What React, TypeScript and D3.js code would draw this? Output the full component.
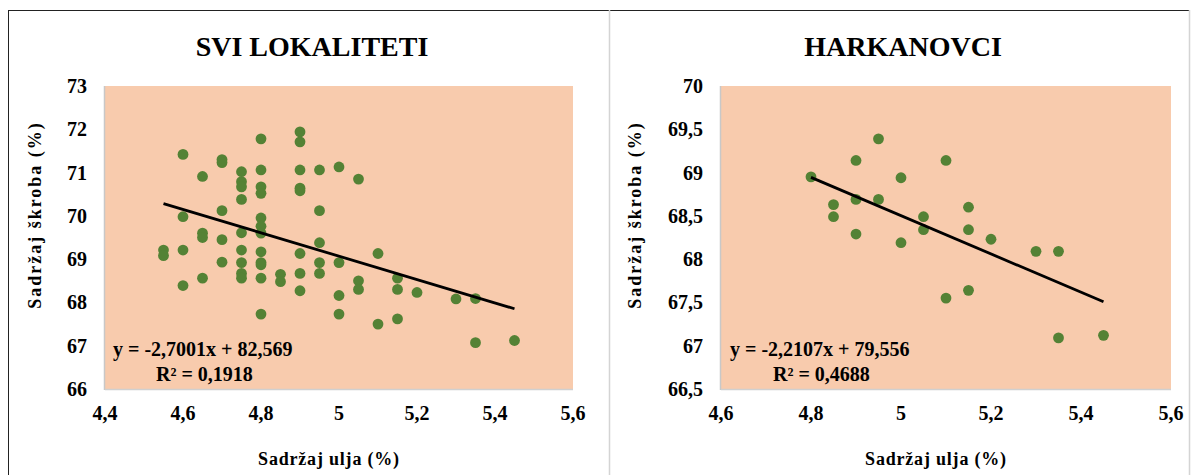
import React from "react";
import * as d3 from "d3";

// ---- Data: SVI LOKALITETI ----
const allOil = [
  4.55, 4.55,
  4.6, 4.6, 4.6, 4.6,
  4.65, 4.65, 4.65, 4.65,
  4.7, 4.7, 4.7, 4.7, 4.7,
  4.75, 4.75, 4.75, 4.75, 4.75, 4.75, 4.75, 4.75, 4.75,
  4.8, 4.8, 4.8, 4.8, 4.8, 4.8, 4.8, 4.8, 4.8, 4.8, 4.8, 4.8,
  4.85, 4.85,
  4.9, 4.9, 4.9, 4.9, 4.9, 4.9, 4.9, 4.9,
  4.95, 4.95, 4.95, 4.95, 4.95,
  5.0, 5.0, 5.0, 5.0,
  5.05, 5.05, 5.05,
  5.1, 5.1,
  5.15, 5.15, 5.15,
  5.2,
  5.3,
  5.35, 5.35,
  5.45,
];
const allStarch = [
  69.21, 69.08,
  71.42, 69.98, 69.21, 68.39,
  70.91, 69.6, 69.5, 68.56,
  71.3, 71.23, 70.12, 69.45, 68.93,
  71.02, 70.79, 70.67, 70.38, 69.61, 69.21, 68.92, 68.67, 68.56,
  71.78, 71.06, 70.67, 70.52, 69.95, 69.76, 69.6, 69.17, 68.92, 68.87, 68.56, 67.73,
  68.65, 68.48,
  71.94, 71.71, 71.06, 70.64, 70.58, 69.13, 68.67, 68.27,
  71.06, 70.12, 69.38, 68.92, 68.67,
  71.13, 68.92, 68.16, 67.73,
  70.85, 68.5, 68.3,
  69.13, 67.5,
  68.56, 68.3, 67.62,
  68.23,
  68.08,
  68.09, 67.07,
  67.12,
];

// ---- Data: HARKANOVCI ----
const harkOil = [
  4.8,
  4.85, 4.85,
  4.9, 4.9, 4.9,
  4.95, 4.95,
  5.0, 5.0,
  5.05, 5.05,
  5.1, 5.1,
  5.15, 5.15, 5.15,
  5.2,
  5.3,
  5.35, 5.35,
  5.45,
];
const harkStarch = [
  68.95,
  68.63, 68.49,
  69.14, 68.69, 68.29,
  69.39, 68.69,
  68.94, 68.19,
  68.49, 68.34,
  69.14, 67.55,
  68.6, 68.34, 67.64,
  68.23,
  68.09,
  68.09, 67.09,
  67.12,
];

// ---- Axes ----
const allXTicks = [4.4, 4.6, 4.8, 5.0, 5.2, 5.4, 5.6];
const allYTicks = [66, 67, 68, 69, 70, 71, 72, 73];
const harkXTicks = [4.6, 4.8, 5.0, 5.2, 5.4, 5.6];
const harkYTicks = [66.5, 67, 67.5, 68, 68.5, 69, 69.5, 70];

// ---- Trend lines ----
const allTrend = [-2.7001, 82.569];
const harkTrend = [-2.2107, 79.556];
const allEquation = ["y = -2,7001x + 82,569", "R² = 0,1918"];
const harkEquation = ["y = -2,2107x + 79,556", "R² = 0,4688"];

const titles = ["SVI LOKALITETI", "HARKANOVCI"];
const xTitle = "Sadržaj  ulja (%)";
const yTitle = "Sadržaj  škroba (%)";

const FONT = "'Liberation Serif', 'Times New Roman', serif";
const PEACH = "#F8CBAD";
const GREEN = "#548235";

const fmt = (v: number) => String(+v.toFixed(2)).replace(".", ",");

type PanelProps = {
  title: string;
  xs: number[];
  ys: number[];
  xTicks: number[];
  yTicks: number[];
  trend: number[];
  eq: string[];
  left: number;
  right: number;
  plotLeft: number;
  plotRight: number;
  eqX: number;
  r2X: number;
};

function Panel(p: PanelProps) {
  const top = 86;
  const bottom = 389;
  const x = d3
    .scaleLinear()
    .domain([p.xTicks[0], p.xTicks[p.xTicks.length - 1]])
    .range([p.plotLeft, p.plotRight]);
  const y = d3
    .scaleLinear()
    .domain([p.yTicks[0], p.yTicks[p.yTicks.length - 1]])
    .range([bottom, top]);
  const [m, b] = p.trend;
  const x0 = d3.min(p.xs)!;
  const x1 = d3.max(p.xs)!;
  const line = d3
    .line<number>()
    .x((d) => x(d))
    .y((d) => y(m * d + b));
  const cx = (p.left + p.right) / 2;
  const plotCx = (p.plotLeft + p.plotRight) / 2;
  return (
    <g>
      <text
        x={cx + 4}
        y={56}
        textAnchor="middle"
        fontFamily={FONT}
        fontWeight="bold"
        fontSize={28}
        fill="#000"
      >
        {p.title}
      </text>
      <rect
        x={p.plotLeft}
        y={top}
        width={p.plotRight - p.plotLeft}
        height={bottom - top}
        fill={PEACH}
      />
      <line x1={p.plotLeft - 0.5} x2={p.plotLeft - 0.5} y1={top} y2={bottom + 1} stroke="#c8c8c8" strokeWidth={1.5} />
      <line x1={p.plotLeft} x2={p.plotRight} y1={bottom + 0.5} y2={bottom + 0.5} stroke="#d0d0d0" strokeWidth={1.5} />
      {p.yTicks.map((t) => (
        <text
          key={"y" + t}
          x={p.plotLeft - 18}
          y={y(t)}
          dy="0.35em"
          textAnchor="end"
          fontFamily={FONT}
          fontWeight="bold"
          fontSize={20}
        >
          {fmt(t)}
        </text>
      ))}
      {p.xTicks.map((t) => (
        <text
          key={"x" + t}
          x={x(t)}
          y={420}
          textAnchor="middle"
          fontFamily={FONT}
          fontWeight="bold"
          fontSize={20}
        >
          {fmt(t)}
        </text>
      ))}
      {p.xs.map((v, i) => (
        <circle key={i} cx={x(v)} cy={y(p.ys[i])} r={5.4} fill={GREEN} />
      ))}
      <path d={line([x0, x1]) || ""} stroke="#000" strokeWidth={2.8} fill="none" />
      <text x={p.eqX} y={356} fontFamily={FONT} fontWeight="bold" fontSize={20}>
        {p.eq[0]}
      </text>
      <text x={p.r2X} y={381} fontFamily={FONT} fontWeight="bold" fontSize={20}>
        {p.eq[1]}
      </text>
      <text
        x={plotCx - 10}
        y={465}
        textAnchor="middle"
        fontFamily={FONT}
        fontWeight="bold"
        fontSize={18}
        letterSpacing={0.8}
      >
        {xTitle}
      </text>
      <text
        transform={`translate(${p.left + 33},215) rotate(-90)`}
        textAnchor="middle"
        fontFamily={FONT}
        fontWeight="bold"
        fontSize={18}
        letterSpacing={2}
      >
        {yTitle}
      </text>
    </g>
  );
}

export default function App() {
  return (
    <svg
      width={1193}
      height={475}
      style={{ position: "absolute", left: 0, top: 0, background: "#fff" }}
    >
      <rect x={0} y={0} width={1193} height={475} fill="#fff" />
      <Panel
        title={titles[0]}
        xs={allOil}
        ys={allStarch}
        xTicks={allXTicks}
        yTicks={allYTicks}
        trend={allTrend}
        eq={allEquation}
        left={8}
        right={608}
        plotLeft={105}
        plotRight={573}
        eqX={113}
        r2X={156}
      />
      <Panel
        title={titles[1]}
        xs={harkOil}
        ys={harkStarch}
        xTicks={harkXTicks}
        yTicks={harkYTicks}
        trend={harkTrend}
        eq={harkEquation}
        left={608}
        right={1190}
        plotLeft={721}
        plotRight={1171}
        eqX={730}
        r2X={773}
      />
      <line x1={8} x2={1190} y1={10.5} y2={10.5} stroke="#222" strokeWidth={1} />
      <line x1={8.5} x2={8.5} y1={10} y2={475} stroke="#222" strokeWidth={1} />
      <line x1={609.5} x2={609.5} y1={10} y2={475} stroke="#d4d4d4" strokeWidth={1.5} />
      <line x1={1189.5} x2={1189.5} y1={10} y2={475} stroke="#d4d4d4" strokeWidth={1.5} />
    </svg>
  );
}
